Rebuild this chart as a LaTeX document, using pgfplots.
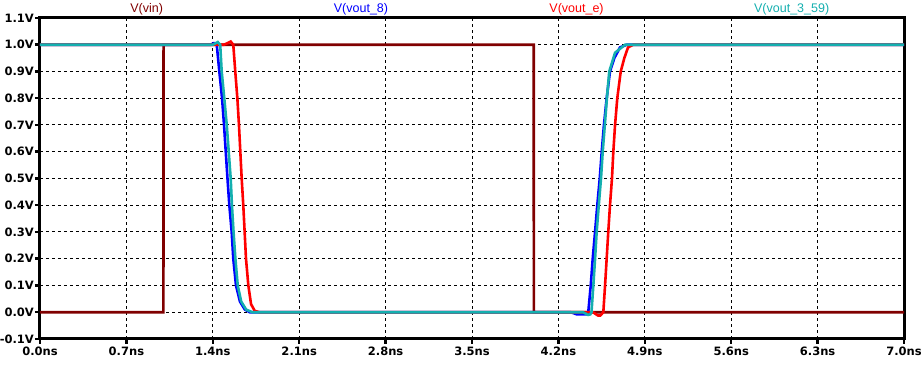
\documentclass[border=0pt]{standalone}
\usepackage{pgfplots}
\pgfplotsset{compat=1.18}
\usepackage{fontspec}
\setmainfont{Liberation Sans}
\newfontfamily\tickfont{DejaVu Sans}
\newcommand\tl[1]{{\fontsize{11.5}{13}\tickfont\bfseries #1}}
\definecolor{cvin}{RGB}{128,0,0}
\definecolor{cblue}{RGB}{0,0,255}
\definecolor{cred}{RGB}{255,0,0}
\definecolor{ccyan}{RGB}{20,175,175}
\begin{document}
\begin{tikzpicture}
\begin{axis}[
  scale only axis, width=864pt, height=321pt,
  xmin=0, xmax=7, ymin=-0.1, ymax=1.1,
  xtick={0,0.7,1.4,2.1,2.8,3.5,4.2,4.9,5.6,6.3,7},
  xticklabels={\tl{0.0ns},\tl{0.7ns},\tl{1.4ns},\tl{2.1ns},\tl{2.8ns},\tl{3.5ns},\tl{4.2ns},\tl{4.9ns},\tl{5.6ns},\tl{6.3ns},\tl{7.0ns}},
  ytick={-0.1,0,0.1,0.2,0.3,0.4,0.5,0.6,0.7,0.8,0.9,1.0,1.1},
  yticklabels={\tl{-0.1V},\tl{0.0V},\tl{0.1V},\tl{0.2V},\tl{0.3V},\tl{0.4V},\tl{0.5V},\tl{0.6V},\tl{0.7V},\tl{0.8V},\tl{0.9V},\tl{1.0V},\tl{1.1V}},
  grid=major,
  major grid style={black, line width=1pt, dash pattern=on 3pt off 3pt},
  axis line style={black, line width=3pt, line cap=rect},
  tick align=outside, xtick pos=bottom, ytick pos=left,
  major tick length=5pt,
  tick style={black, line width=2.5pt},
  yticklabel style={inner sep=1pt},
  xticklabel style={inner sep=1pt, yshift=-2pt},
  clip mode=individual,
]
\addplot[cvin, line width=2.6pt] coordinates {(0,0) (1.0,0) (1.001,1) (4.0,1) (4.001,0) (7,0)};
\addplot[cblue, line width=2.6pt] coordinates {
(0,1.0) (1.38,1.0) (1.41,1.006) (1.432,1.0) (1.453,0.9) (1.475,0.8) (1.491,0.7) (1.505,0.6)
(1.519,0.5) (1.534,0.4) (1.553,0.3) (1.566,0.2) (1.588,0.1) (1.62,0.04) (1.66,0.01) (1.70,0.0)
(4.30,0.0) (4.35,-0.008) (4.43,-0.008) (4.442,0.0) (4.462,0.1) (4.478,0.2) (4.497,0.3) (4.515,0.4)
(4.535,0.5) (4.551,0.6) (4.569,0.7) (4.591,0.8) (4.618,0.9) (4.653,0.95) (4.699,0.99) (4.753,1.0) (7.0,1.0)};
\addplot[cred, line width=2.6pt] coordinates {
(0,1.0) (1.49,1.0) (1.52,1.006) (1.545,1.012) (1.566,1.0) (1.582,0.9) (1.599,0.8) (1.612,0.7)
(1.623,0.6) (1.634,0.5) (1.647,0.4) (1.658,0.3) (1.669,0.2) (1.688,0.1) (1.71,0.03) (1.74,0.005) (1.78,0.0)
(4.48,0.0) (4.52,-0.012) (4.54,-0.012) (4.564,0.0) (4.578,0.1) (4.591,0.2) (4.604,0.3) (4.618,0.4)
(4.634,0.5) (4.645,0.6) (4.659,0.7) (4.677,0.8) (4.705,0.9) (4.734,0.95) (4.764,0.99) (4.807,1.0) (7.0,1.0)};
\addplot[ccyan, line width=2.6pt] coordinates {
(0,1.0) (1.40,1.0) (1.44,1.01) (1.46,1.0) (1.472,0.9) (1.493,0.8) (1.513,0.7) (1.529,0.6)
(1.545,0.5) (1.555,0.4) (1.568,0.3) (1.583,0.2) (1.602,0.1) (1.63,0.04) (1.67,0.01) (1.72,0.0)
(4.40,0.0) (4.44,-0.01) (4.458,-0.008) (4.468,0.0) (4.483,0.1) (4.497,0.2) (4.510,0.3) (4.527,0.4)
(4.545,0.5) (4.559,0.6) (4.576,0.7) (4.593,0.8) (4.612,0.9) (4.659,0.97) (4.74,1.0) (7.0,1.0)};
\end{axis}
\path (current axis.north west) -- (current axis.north east)
  node[pos=0.1235, anchor=base, yshift=5pt, font=\fontsize{12.5}{14}\selectfont, text=cvin] {V(vin)}
  node[pos=0.3715, anchor=base, yshift=5pt, font=\fontsize{12.5}{14}\selectfont, text=cblue] {V(vout\_8)}
  node[pos=0.621, anchor=base, yshift=5pt, font=\fontsize{12.5}{14}\selectfont, text=cred] {V(vout\_e)}
  node[pos=0.870, anchor=base, yshift=5pt, font=\fontsize{12.5}{14}\selectfont, text=ccyan] {V(vout\_3\_59)};
\pgfresetboundingbox
\path[use as bounding box] ([xshift=-40pt,yshift=-26pt]current axis.south west) rectangle ([xshift=17pt,yshift=18pt]current axis.north east);
\end{tikzpicture}
\end{document}
